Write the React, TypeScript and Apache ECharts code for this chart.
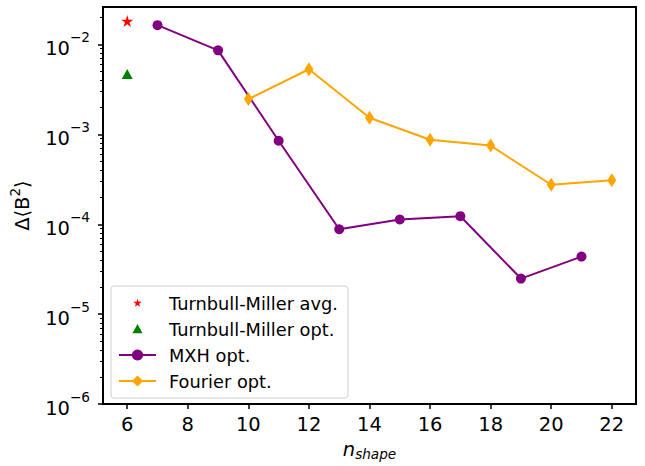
import React, { useEffect, useRef } from "react";
import * as echarts from "echarts";

const tmAvg: [number, number][] = [[6, 0.0182]];
const tmOpt: [number, number][] = [[6, 0.0047]];
const mxhX = [7, 9, 11, 13, 15, 17, 19, 21];
const mxhY = [0.0164, 0.0086, 0.00085, 0.000088, 0.000113, 0.000123, 0.0000249, 0.0000437];
const fourierX = [10, 12, 14, 16, 18, 20, 22];
const fourierY = [0.00247, 0.0053, 0.00153, 0.00087, 0.00075, 0.000275, 0.000309];
const xTicks = [6, 8, 10, 12, 14, 16, 18, 20, 22];
const yTicks = [1e-6, 1e-5, 1e-4, 1e-3, 1e-2];
const yMinorMult = [2, 3, 4, 5, 6, 7, 8, 9];
const yMinorExp = [-6, -5, -4, -3];
const seriesNames = ["Turnbull-Miller avg.", "Turnbull-Miller opt.", "MXH opt.", "Fourier opt."];

const STAR =
  "M50,18 L57.17,40.13 L80.43,40.11 L61.6,53.77 L68.81,75.89 L50,62.2 L31.19,75.89 L38.4,53.77 L19.57,40.11 L42.83,40.13 Z";
const STAR_LEGEND = "path://M0,0 L0.01,0 L0,0.01 Z M100,100 L99.99,100 L100,99.99 Z M50,20 L57.3,41.8 L80.4,41.8 L61.7,55.3 L68.7,77.6 L50,63.7 L31.3,77.6 L38.3,55.3 L19.6,41.8 L42.7,41.8 Z";
const TRI_LEGEND = "path://M0,0 L0.01,0 L0,0.01 Z M100,100 L99.99,100 L100,99.99 Z M50,14 L86,80 L14,80 Z";

const FONT = "DejaVu Sans";
const FS = 19.5;
const SUP = 13.6;

export default function App() {
  const ref = useRef<HTMLDivElement>(null);
  useEffect(() => {
    if (!ref.current) return;
    const chart = echarts.init(ref.current, null, { renderer: "svg" });
    const minors: number[] = [];
    yMinorExp.forEach((e) => yMinorMult.forEach((m) => minors.push(m * Math.pow(10, e))));
    minors.push(0.02);
    const yMin = 1e-6;
    const yMax = 0.0261;
    chart.setOption({
      animation: false,
      grid: {
        left: 101.5,
        top: 7,
        right: 9,
        bottom: 60.5,
        show: true,
        borderColor: "#000",
        borderWidth: 2,
        backgroundColor: "transparent",
      },
      legend: {
        orient: "vertical",
        left: 111,
        top: 286,
        padding: [8, 10, 8, 7],
        itemWidth: 37,
        itemHeight: 14,
        itemGap: 8,
        borderColor: "#d0d0d0",
        borderWidth: 1,
        borderRadius: 3,
        backgroundColor: "#fff",
        textStyle: { fontFamily: FONT, fontSize: 17.8, color: "#000", padding: [0, 0, 0, 8] },
        data: [
          { name: seriesNames[0], icon: STAR_LEGEND },
          { name: seriesNames[1], icon: TRI_LEGEND },
          { name: seriesNames[2] },
          { name: seriesNames[3] },
        ],
      },
      xAxis: {
        type: "value",
        min: 5.2,
        max: 22.8,
        axisLine: { show: false, onZero: false },
        splitLine: { show: false },
        axisTick: { show: true, length: 5, lineStyle: { color: "#000", width: 1.5 }, customValues: xTicks },
        axisLabel: {
          customValues: xTicks,
          fontFamily: FONT,
          fontSize: FS,
          color: "#000",
          margin: 10,
        },
        name: "{n|n}{s|shape}",
        nameLocation: "middle",
        nameGap: 32,
        nameTextStyle: {
          rich: {
            n: { fontFamily: FONT, fontStyle: "italic", fontSize: FS, color: "#000", verticalAlign: "top", lineHeight: 22 },
            s: { fontFamily: FONT, fontStyle: "italic", fontSize: SUP, color: "#000", verticalAlign: "bottom", lineHeight: 14 },
          },
        },
      },
      yAxis: [
        {
          type: "log",
          logBase: 10,
          min: yMin,
          max: yMax,
          position: "left",
          axisLine: { show: false },
          splitLine: { show: false },
          axisTick: { show: true, length: 5, lineStyle: { color: "#000", width: 1.5 }, customValues: yTicks },
          axisLabel: {
            customValues: yTicks,
            margin: 13,
            formatter: (v: number) => {
              const e = Math.round(Math.log10(v));
              return "{b|10}{s|\u2212" + Math.abs(e) + "}";
            },
            rich: {
              b: { fontFamily: FONT, fontSize: FS, color: "#000", lineHeight: 28, verticalAlign: "bottom" },
              s: { fontFamily: FONT, fontSize: SUP, color: "#000", lineHeight: 13, verticalAlign: "top" },
            },
          },
          name: "{t|\u0394\u27e8B}{s|2}{t|\u27e9}",
          nameLocation: "middle",
          nameGap: 71,
          nameRotate: 90,
          nameTextStyle: {
            rich: {
              t: { fontFamily: FONT, fontSize: FS, color: "#000", lineHeight: 24, verticalAlign: "bottom" },
              s: { fontFamily: FONT, fontSize: SUP, color: "#000", lineHeight: 13, verticalAlign: "top" },
            },
          },
        },
        {
          type: "log",
          logBase: 10,
          min: yMin,
          max: yMax,
          position: "left",
          offset: 0,
          axisLine: { show: false },
          splitLine: { show: false },
          axisLabel: { show: false },
          axisTick: { show: true, length: 3, lineStyle: { color: "#000", width: 1 }, customValues: minors },
        },
      ],
      series: [
        {
          name: seriesNames[0],
          type: "scatter",
          data: tmAvg,
          symbol: "path://" + STAR,
          symbolSize: 12,
          itemStyle: { color: "#ff0000", opacity: 1 },
        },
        {
          name: seriesNames[1],
          type: "scatter",
          data: tmOpt,
          symbol: "triangle",
          symbolSize: [11, 10],
          itemStyle: { color: "#008000", opacity: 1 },
        },
        {
          name: seriesNames[2],
          type: "line",
          data: mxhX.map((x, i) => [x, mxhY[i]]),
          symbol: "circle",
          symbolSize: 10,
          lineStyle: { color: "#800080", width: 2 },
          itemStyle: { color: "#800080" },
        },
        {
          name: seriesNames[3],
          type: "line",
          data: fourierX.map((x, i) => [x, fourierY[i]]),
          symbol: "diamond",
          symbolSize: [9, 14],
          lineStyle: { color: "#ffa500", width: 2 },
          itemStyle: { color: "#ffa500" },
        },
      ],
    });
    return () => chart.dispose();
  }, []);
  return <div ref={ref} style={{ width: 645, height: 466, position: "absolute", left: 0, top: 0 }} />;
}
